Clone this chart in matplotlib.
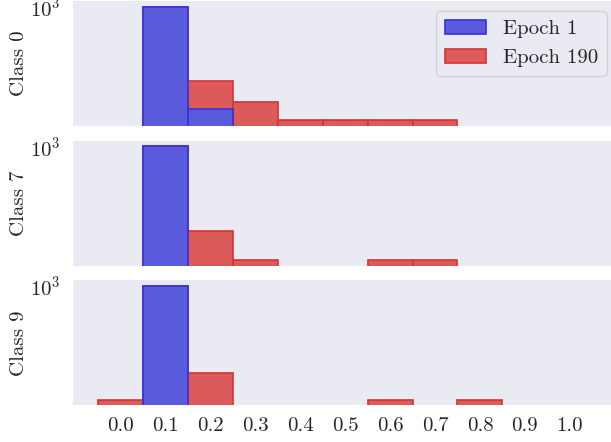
import numpy as np
import matplotlib
matplotlib.use('Agg')
import matplotlib.pyplot as plt
import seaborn as sns

# bin centres of the histogram (width 0.1)
bin_centers = [0.0, 0.1, 0.2, 0.3, 0.4, 0.5, 0.6, 0.7, 0.8, 0.9, 1.0]
tick_labels = ['0.0', '0.1', '0.2', '0.3', '0.4', '0.5', '0.6', '0.7', '0.8', '0.9', '1.0']
class_names = ['Class 0', 'Class 7', 'Class 9']

# counts per bin
epoch1_counts = [
    [0, 998, 2, 0, 0, 0, 0, 0, 0, 0, 0],
    [0, 1000, 0, 0, 0, 0, 0, 0, 0, 0, 0],
    [0, 1000, 0, 0, 0, 0, 0, 0, 0, 0, 0],
]
epoch190_counts = [
    [0, 982, 11, 3, 1, 1, 1, 1, 0, 0, 0],
    [0, 991, 6, 1, 0, 0, 1, 1, 0, 0, 0],
    [1, 992, 5, 0, 0, 0, 1, 0, 1, 0, 0],
]

sns.set_style('dark')
plt.rcParams['font.family'] = 'serif'
plt.rcParams['font.serif'] = ['cmr10']
plt.rcParams['mathtext.fontset'] = 'cm'
plt.rcParams['axes.formatter.use_mathtext'] = True
plt.rcParams['axes.unicode_minus'] = False
plt.rcParams['font.size'] = 15

fig, axes = plt.subplots(3, 1, sharex=True, figsize=(6.11, 4.42), dpi=100)
plt.subplots_adjust(left=0.12, right=1.0098, top=0.9977, bottom=0.083, hspace=0.116)

x = np.array(bin_centers)
width = 0.1
lo, hi = x[0] - width / 2, x[-1] + width / 2
pad = 0.05 * (hi - lo)

for i, ax in enumerate(axes):
    red = np.array(epoch190_counts[i])
    blue = np.array(epoch1_counts[i])
    m_red = red > 0
    m_blue = blue > 0
    b2 = ax.bar(x[m_red], red[m_red], width=width, log=True, color='#dd5a5a',
                edgecolor='#d63232', linewidth=1.2, label='Epoch 190', zorder=2)
    b1 = ax.bar(x[m_blue], blue[m_blue], width=width, log=True, color='#5a5add',
                edgecolor='#3232dd', linewidth=1.2, label='Epoch 1', zorder=3)
    ax.set_yticks([1000])
    ax.yaxis.set_minor_locator(matplotlib.ticker.NullLocator())
    ax.set_ylabel(class_names[i], labelpad=1)
    ax.tick_params(axis='y', pad=6)
    ax.tick_params(axis='x', pad=5)
    for s in ax.spines.values():
        s.set_visible(False)
    if i == 0:
        ax.legend(handles=[b1, b2], loc='upper right')

axes[-1].set_xlim(lo - pad, hi + pad)
axes[-1].set_xticks(bin_centers)
axes[-1].set_xticklabels(tick_labels)

plt.savefig('out.png', dpi=100)
